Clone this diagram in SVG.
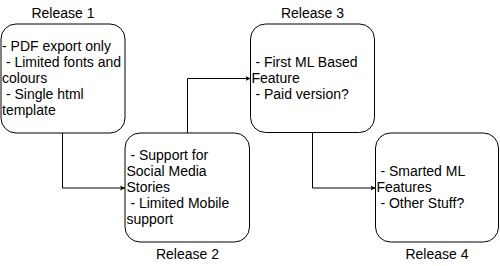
<svg xmlns="http://www.w3.org/2000/svg" width="500" height="266" viewBox="0 0 500 266">
  <style>
    .box { fill: #ffffff; stroke: #000000; stroke-width: 1; }
    .txt { font-family: "Liberation Sans", Arial, Helvetica, sans-serif; font-size: 14px; fill: #000000; white-space: pre; }
    .lbl { font-family: "Liberation Sans", Arial, Helvetica, sans-serif; font-size: 14px; fill: #000000; text-anchor: middle; }
    .edge { fill: none; stroke: #000000; stroke-width: 1; }
  </style>
  <defs>
    <marker id="arrow" markerUnits="userSpaceOnUse" markerWidth="8" markerHeight="8" refX="5" refY="3" orient="auto">
      <path d="M0,0.5 L5,3 L0,5.5 L1.2,3 Z" fill="#000000" stroke="none"/>
    </marker>
  </defs>
  <rect width="500" height="266" fill="#ffffff"/>

  <g id="connectors">
    <path class="edge" d="M62.5,133 V188 H125" marker-end="url(#arrow)"/>
    <path class="edge" d="M187.5,133.5 V78.5 H250.5" marker-end="url(#arrow)"/>
    <path class="edge" d="M312.5,132 V188 H375.5" marker-end="url(#arrow)"/>
  </g>

  <g id="release1">
    <rect class="box" x="1" y="24" width="124" height="109" rx="15" ry="15"/>
    <text class="lbl" x="63" y="18">Release 1</text>
    <text class="txt" xml:space="preserve"><tspan x="2" y="51">- PDF export only</tspan><tspan x="2" y="67"> - Limited fonts and</tspan><tspan x="2" y="83">colours</tspan><tspan x="2" y="99"> - Single html</tspan><tspan x="2" y="115">template</tspan></text>
  </g>

  <g id="release2">
    <rect class="box" x="125" y="133" width="124.5" height="109" rx="15" ry="15"/>
    <text class="lbl" x="187.5" y="259">Release 2</text>
    <text class="txt" xml:space="preserve"><tspan x="126.5" y="160"> - Support for</tspan><tspan x="126.5" y="176">Social Media</tspan><tspan x="126.5" y="192">Stories</tspan><tspan x="126.5" y="208"> - Limited Mobile</tspan><tspan x="126.5" y="224">support</tspan></text>
  </g>

  <g id="release3">
    <rect class="box" x="250.5" y="24" width="124" height="108.5" rx="15" ry="15"/>
    <text class="lbl" x="312.5" y="18">Release 3</text>
    <text class="txt" xml:space="preserve"><tspan x="251.5" y="67"> - First ML Based</tspan><tspan x="251.5" y="83">Feature</tspan><tspan x="251.5" y="99"> - Paid version?</tspan></text>
  </g>

  <g id="release4">
    <rect class="box" x="375.5" y="133" width="123" height="109" rx="15" ry="15"/>
    <text class="lbl" x="437" y="259">Release 4</text>
    <text class="txt" xml:space="preserve"><tspan x="376.5" y="176"> - Smarted ML</tspan><tspan x="376.5" y="192">Features</tspan><tspan x="376.5" y="208"> - Other Stuff?</tspan></text>
  </g>
</svg>
